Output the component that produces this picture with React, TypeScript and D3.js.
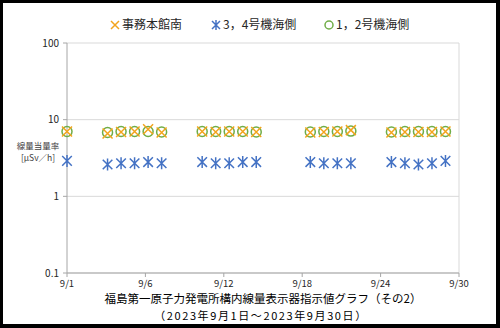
import React from 'react';
import * as d3 from 'd3';

// measurement days (September 2023, weekdays)
const days = [1, 4, 5, 6, 7, 8, 11, 12, 13, 14, 15, 19, 20, 21, 22, 25, 26, 27, 28, 29];
const honkan = [7.0, 6.6, 6.9, 7.0, 7.5, 6.8, 7.0, 6.9, 7.0, 7.0, 6.9, 6.8, 6.9, 7.0, 7.3, 6.8, 6.9, 6.9, 6.9, 7.0];
const unit34 = [2.9, 2.6, 2.7, 2.7, 2.8, 2.7, 2.8, 2.7, 2.7, 2.8, 2.8, 2.8, 2.7, 2.7, 2.7, 2.8, 2.7, 2.6, 2.7, 2.9];
const unit12 = [7.0, 6.8, 7.0, 7.0, 7.0, 6.9, 7.0, 7.0, 7.0, 7.0, 6.9, 6.9, 7.0, 7.0, 7.1, 6.9, 7.0, 7.0, 7.0, 7.0];
const xTickLabels = ['9/1', '9/6', '9/12', '9/18', '9/24', '9/30'];
const yTicks = [0.1, 1, 10, 100];
const seriesNames = ['事務本館南', '3，4号機海側', '1，2号機海側'];

const W = 500;
const H = 328;
const left = 67, right = 459, top = 43, bottom = 273;
const ORANGE = '#f2a41c';
const BLUE = '#4472c4';
const GREEN = '#70ad47';
const FONT = '"Noto Sans CJK JP", "Noto Sans", sans-serif';

const Cross = ({ cx, cy, s = 5 }: { cx: number; cy: number; s?: number }) => (
  <path d={`M${cx - s},${cy - s}L${cx + s},${cy + s}M${cx - s},${cy + s}L${cx + s},${cy - s}`}
    stroke={ORANGE} strokeWidth={1.5} fill="none" />
);
const Star = ({ cx, cy, s = 6 }: { cx: number; cy: number; s?: number }) => (
  <path d={`M${cx - s * 0.8},${cy - s * 0.8}L${cx + s * 0.8},${cy + s * 0.8}M${cx - s * 0.8},${cy + s * 0.8}L${cx + s * 0.8},${cy - s * 0.8}M${cx},${cy - s}L${cx},${cy + s}`}
    stroke={BLUE} strokeWidth={1.5} fill="none" />
);
const Ring = ({ cx, cy, r = 5 }: { cx: number; cy: number; r?: number }) => (
  <circle cx={cx} cy={cy} r={r} stroke={GREEN} strokeWidth={1.5} fill="none" />
);

export default function App() {
  const x = d3.scaleLinear().domain([1, 30]).range([left, right]);
  const y = d3.scaleLog().domain([0.1, 100]).range([bottom, top]);
  const xTicks = d3.range(xTickLabels.length).map(i => 1 + (i * 29) / (xTickLabels.length - 1));

  return (
    <svg width={W} height={H} style={{ position: 'absolute', left: 0, top: 0 }} fontFamily={FONT}>
      <rect width={W} height={H} fill="#000" />
      <rect x={3} y={3} width={493} height={321} fill="#fff" />

      {/* gridlines */}
      {yTicks.map(t => (
        <line key={t} x1={left} x2={right} y1={y(t)} y2={y(t)} stroke="#d9d9d9" strokeWidth={1} />
      ))}
      <line x1={right} x2={right} y1={top} y2={bottom} stroke="#d9d9d9" />

      {/* axes */}
      <line x1={left} x2={left} y1={top} y2={bottom} stroke="#a6a6a6" />
      <line x1={left} x2={right} y1={bottom} y2={bottom} stroke="#a6a6a6" />
      {yTicks.map(t => (
        <g key={t}>
          <line x1={left - 4} x2={left} y1={y(t)} y2={y(t)} stroke="#a6a6a6" />
          <text x={left - 8} y={y(t)} dy="0.35em" textAnchor="end" fontSize={10} fill="#262626">{t}</text>
        </g>
      ))}
      {xTicks.map((t, i) => (
        <g key={i}>
          <line x1={x(t)} x2={x(t)} y1={bottom} y2={bottom + 4} stroke="#a6a6a6" />
          <text x={x(t)} y={bottom + 14} textAnchor="middle" fontSize={9.5} fill="#262626">{xTickLabels[i]}</text>
        </g>
      ))}

      {/* y axis title */}
      <text x={38} y={149} textAnchor="middle" fontSize={8.5} fill="#404040">線量当量率</text>
      <text x={38} y={161} textAnchor="middle" fontSize={8.5} fill="#404040">[μSv／h]</text>

      {/* data */}
      {days.map((d, i) => <Star key={'b' + d} cx={x(d)} cy={y(unit34[i])} />)}
      {days.map((d, i) => <Ring key={'g' + d} cx={x(d)} cy={y(unit12[i])} />)}
      {days.map((d, i) => <Cross key={'o' + d} cx={x(d)} cy={y(honkan[i])} />)}

      {/* legend */}
      <Cross cx={115} cy={25} s={4} />
      <text x={122} y={25} dy="0.35em" fontSize={12} fill="#262626">{seriesNames[0]}</text>
      <Star cx={216} cy={25} s={5} />
      <text x={223} y={25} dy="0.35em" fontSize={12} fill="#262626">{seriesNames[1]}</text>
      <Ring cx={329} cy={25} r={4} />
      <text x={336} y={25} dy="0.35em" fontSize={12} fill="#262626">{seriesNames[2]}</text>

      {/* title */}
      <text x={263} y={299} dy="0.35em" textAnchor="middle" fontSize={11.5} fill="#000">福島第一原子力発電所構内線量表示器指示値グラフ（その2）</text>
      <text x={261} y={316} dy="0.35em" textAnchor="middle" fontSize={11} letterSpacing={1.6} fill="#000">（2023年9月1日～2023年9月30日）</text>
    </svg>
  );
}
